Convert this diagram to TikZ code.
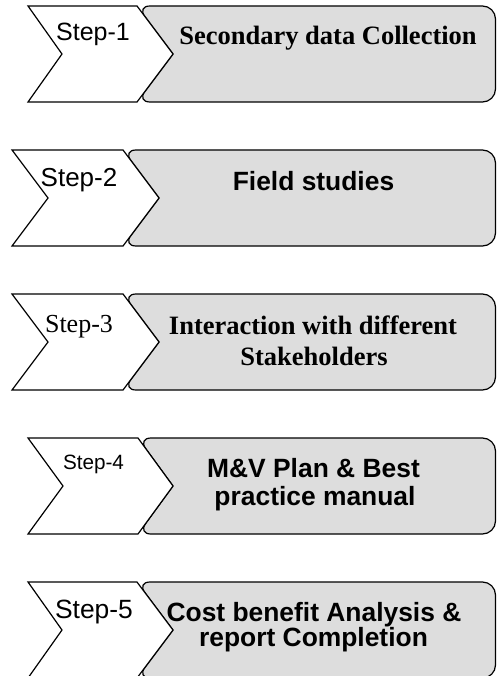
\documentclass[tikz,border=0pt]{standalone}
\usepackage{fontspec}
\setmainfont{Liberation Serif}
\newfontfamily\arialf{Liberation Sans}
\newfontfamily\timesf{Liberation Serif}
\definecolor{boxgrey}{RGB}{221,221,221}
\begin{document}
\begin{tikzpicture}[x=1pt,y=-1pt,line width=1.2pt,line join=miter,
  greybox/.style={fill=boxgrey,draw=black,rounded corners=13pt},
  chev/.style={fill=white,draw=black},
  lbl/.style={anchor=base,inner sep=0pt},
  sans/.style={lbl,font=\arialf\fontsize{#1}{#1}\selectfont},
  serif/.style={lbl,font=\timesf\fontsize{#1}{#1}\selectfont},
  sansb/.style={lbl,font=\arialf\bfseries\fontsize{26.4}{28}\selectfont},
  serifb/.style={lbl,font=\timesf\bfseries\fontsize{26.5}{28}\selectfont}]
\useasboundingbox (0,0) rectangle (496,676);

% Step 1
\path[greybox] (173,54) -- (137,6) -- (495.5,6) -- (495.5,102) -- (137,102) -- (173,54);
\draw[chev] (28,6) -- (137,6) -- (173,54) -- (137,102) -- (28,102) -- (62,54) -- cycle;
\node[sans=25] (s1) at (93,41) {Step-1};
\node[serifb] (t1) at (328,45) {Secondary data Collection};

% Step 2
\path[greybox] (159,198) -- (123,150) -- (495.5,150) -- (495.5,246) -- (123,246) -- (159,198);
\draw[chev] (12,150) -- (123,150) -- (159,198) -- (123,246) -- (12,246) -- (48,198) -- cycle;
\node[sans=26] (s2) at (79,186) {Step-2};
\node[sansb] (t2) at (313.5,190) {Field studies};

% Step 3
\path[greybox] (159,342) -- (123,294) -- (495.5,294) -- (495.5,390) -- (123,390) -- (159,342);
\draw[chev] (12,294) -- (123,294) -- (159,342) -- (123,390) -- (12,390) -- (48,342) -- cycle;
\node[serif=26] (s3) at (79,332.5) {Step-3};
\node[serifb] (t3a) at (313,334.5) {Interaction with different};
\node[serifb] (t3b) at (314,365) {Stakeholders};

% Step 4
\path[greybox] (173,486) -- (138,438) -- (495.5,438) -- (495.5,534) -- (138,534) -- (173,486);
\draw[chev] (28,438) -- (138,438) -- (173,486) -- (138,534) -- (28,534) -- (63,486) -- cycle;
\node[sans=20.7] (s4) at (93.5,469) {Step-4};
\node[sansb] (t4a) at (313.5,477.7) {M\&V Plan \& Best};
\node[sansb] (t4b) at (315,505) {practice manual};

% Step 5
\path[greybox] (173,630) -- (137,582) -- (495.5,582) -- (495.5,678) -- (137,678) -- (173,630);
\draw[chev] (28,582) -- (137,582) -- (173,630) -- (137,678) -- (28,678) -- (62,630) -- cycle;
\node[sans=26.4] (s5) at (94,618) {Step-5};
\node[sansb] (t5a) at (314,621.7) {Cost benefit Analysis \&};
\node[sansb] (t5b) at (313.5,646.5) {report Completion};
\end{tikzpicture}
\end{document}
